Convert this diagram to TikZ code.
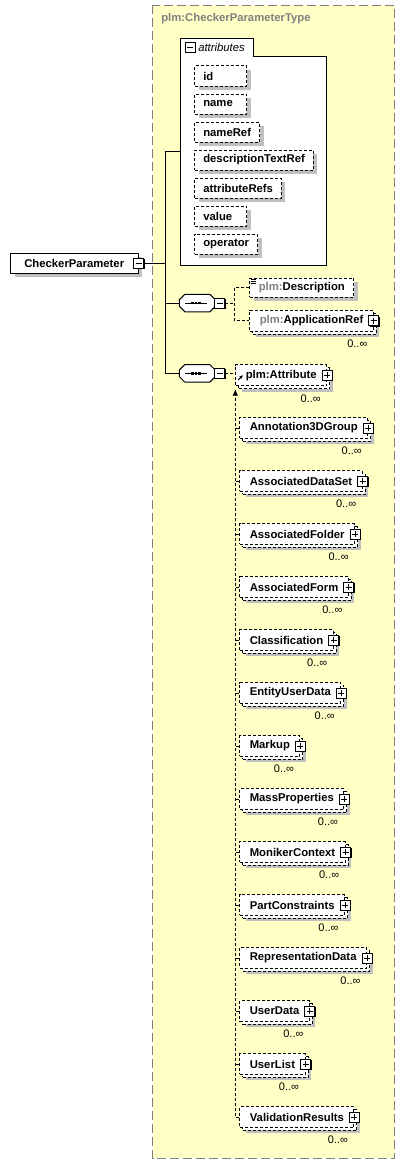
\documentclass[tikz,border=0pt]{standalone}
\usepackage{fontspec}
\setmainfont{Liberation Sans}
\usepackage{tikz}
\usetikzlibrary{arrows.meta, positioning, calc, shadows}
\definecolor{typeyellow}{HTML}{FFFFC6}
\definecolor{nsgray}{HTML}{808080}
\definecolor{shadowgray}{HTML}{C0C0C0}

\begin{document}
\begin{tikzpicture}[x=1pt, y=-1pt, line width=1pt,
    font=\fontsize{11.3pt}{13pt}\selectfont\bfseries,
    dotline/.style={dash pattern=on 3pt off 2pt},
    hardshadow/.style={drop shadow={shadow xshift=4pt, shadow yshift=-4pt, draw=none, fill=shadowgray, opacity=1}},
    attrbox/.style={draw, dotline, fill=white, hardshadow, anchor=west, inner xsep=8.5pt, minimum height=20pt},
    shortattr/.style={attrbox, text width=35pt, align=left},
    elembox/.style={draw, dotline, fill=white, hardshadow, anchor=west, inner xsep=9pt, minimum height=19pt},
    multibox/.style={draw, dotline, fill=white, anchor=west, inner xsep=10pt, minimum height=20.7pt,
      drop shadow={shadow xshift=6pt, shadow yshift=-6pt, draw=none, fill=shadowgray, opacity=1},
      copy shadow={shadow xshift=3pt, shadow yshift=-3pt, draw, dotline, line width=1pt, fill=white}},
    toggle/.style={draw, solid, fill=white, minimum size=10pt, inner sep=0pt,
      drop shadow={shadow xshift=1pt, shadow yshift=-1pt, draw=none, fill=black, opacity=1}},
    collapse/.style={toggle, path picture={
      \draw[line width=0.9pt] ([xshift=2pt]path picture bounding box.west) -- ([xshift=-2pt]path picture bounding box.east);}},
    expand/.style={toggle, path picture={
      \draw[line width=0.9pt] ([xshift=2pt]path picture bounding box.west) -- ([xshift=-2pt]path picture bounding box.east);
      \draw[line width=0.9pt] ([yshift=-2pt]path picture bounding box.north) -- ([yshift=2pt]path picture bounding box.south);}},
    seqbox/.style={minimum width=36pt, minimum height=17.5pt, inner sep=0pt, outer sep=0pt},
    occurs/.style={anchor=east, inner sep=0pt, font=\fontsize{11pt}{13pt}\selectfont}]

    \useasboundingbox (0,0) rectangle (405,1164);

    % complex type
    \draw[nsgray, fill=typeyellow, dash pattern=on 9pt off 4pt] (152.5,5.5) rectangle (394.5,1158);
    \node (typename) [anchor=west, text=nsgray] at (157.5,19) {plm:CheckerParameterType};

    % attributes
    \node (attrs) [anchor=north west, minimum width=146.5pt, minimum height=226.5pt, inner sep=0pt, outer sep=0pt] at (180,38.5) {};
    \draw[fill=white] (attrs.south west) -- (attrs.north west) -- ++(73.5,0) -- ++(0,18.5)
      -| (attrs.south east) -- cycle;
    \node (attspm) [collapse] at (190.3,47.3) {};
    \node (attslabel) [anchor=west, inner xsep=2pt, font=\fontsize{11.3pt}{13pt}\selectfont\itshape] at (attspm.east) {attributes};

    \node (attid) [shortattr] at (194.3,76) {id};
    \node (attname) [shortattr, below=7pt of attid.south west, anchor=north west] {name};
    \node (attnameref) [attrbox, below=7pt of attname.south west, anchor=north west] {nameRef};
    \node (attdescr) [attrbox, below=7pt of attnameref.south west, anchor=north west] {descriptionTextRef};
    \node (attrefs) [attrbox, below=7pt of attdescr.south west, anchor=north west] {attributeRefs};
    \node (attvalue) [shortattr, below=7pt of attrefs.south west, anchor=north west] {value};
    \node (attop) [attrbox, below=7pt of attvalue.south west, anchor=north west] {operator};

    % element
    \node (root) [draw, fill=white, hardshadow, anchor=west, minimum width=127.5pt, minimum height=20pt] at (10,263) {CheckerParameter};
    \node (rootpm) [collapse] at (root.east) {};
    \coordinate (spine) at (165,263);

    % sequences
    \node (seqA) [seqbox] at (197.3,303) {};
    \node (seqB) [seqbox] at (197.3,373.3) {};
    \foreach \s in {seqA, seqB} {
      \foreach \off/\col/\edge in {4/shadowgray/none, 0/white/black}
        \filldraw[fill=\col, draw=\edge, shift={(\off,\off)}]
          ([xshift=5.5pt]\s.north west) -- ([xshift=-5.5pt]\s.north east)
          -- ([yshift=-5.5pt]\s.north east) -- ([yshift=5.5pt]\s.south east)
          -- ([xshift=-5.5pt]\s.south east) -- ([xshift=5.5pt]\s.south west)
          -- ([yshift=5.5pt]\s.south west) -- ([yshift=-5.5pt]\s.north west) -- cycle;
      \draw ([xshift=-12pt]\s.center) -- ([xshift=10pt]\s.center);
      \foreach \dx in {-5, -1.3, 2.4}
        \fill ($(\s.center)+(\dx-1.4,-1.4)$) rectangle +(2.8,2.8);
    }
    \node (seqApm) [collapse] at ([xshift=4.2pt]seqA.east) {};
    \node (seqBpm) [collapse] at ([xshift=4.2pt]seqB.east) {};

    \draw (rootpm) -- (spine);
    \draw (attrs.west -| spine) -- (seqB.west -| spine);
    \draw (attrs.west -| spine) -- (attrs.west);
    \draw (seqA.west -| spine) -- (seqA.west);
    \draw (seqB.west -| spine) -- (seqB.west);

    % first sequence
    \node (descr) [elembox] at (249.3,287.5) {\textcolor{nsgray}{plm:}Description};
    \foreach \dy in {1.6, 3.9, 6.2}
      \draw[line width=0.8pt] ([xshift=1.3pt, yshift=-\dy pt]descr.north west) -- +(5,0);
    \node (appref) [multibox] at (249.3,320.7) {\textcolor{nsgray}{plm:}ApplicationRef};
    \node (apprefpm) [expand] at (appref.east) {};
    \node (apprefocc) [occurs] at ([xshift=-0.5pt, yshift=-23pt]apprefpm.west) {0..∞};
    \draw[dotline] (seqApm.east) -- ++(9.5,0) coordinate (forkA);
    \draw[dotline] (descr.west) -| (forkA) |- (appref.west);

    % second sequence
    \node (attr) [multibox] at (235.3,375.3) {plm:Attribute};
    \node (attrpm) [expand] at (attr.east) {};
    \node (attrocc) [occurs] at ([xshift=-0.5pt, yshift=-23pt]attrpm.west) {0..∞};
    \draw[dotline] (seqBpm.east) -- (seqBpm.east -| attr.west);
    \draw[-{Stealth[length=3.5pt, width=3.5pt]}, line width=1.1pt]
      ([xshift=3pt, yshift=-4.5pt]attr.west) -- ++(4.5,-4.5);

    % substitution group
    \node (annot) [multibox] at (239.3,428) {Annotation3DGroup};
    \node (assocds) [multibox, below=31.3pt of annot.south west, anchor=north west] {AssociatedDataSet};
    \node (assocfolder) [multibox, below=31.3pt of assocds.south west, anchor=north west] {AssociatedFolder};
    \node (assocform) [multibox, below=31.3pt of assocfolder.south west, anchor=north west] {AssociatedForm};
    \node (classif) [multibox, below=31.3pt of assocform.south west, anchor=north west] {Classification};
    \node (entity) [multibox, below=31.3pt of classif.south west, anchor=north west] {EntityUserData};
    \node (markup) [multibox, below=31.3pt of entity.south west, anchor=north west] {Markup};
    \node (massprop) [multibox, below=31.3pt of markup.south west, anchor=north west] {MassProperties};
    \node (moniker) [multibox, below=31.3pt of massprop.south west, anchor=north west] {MonikerContext};
    \node (partcons) [multibox, below=31.3pt of moniker.south west, anchor=north west] {PartConstraints};
    \node (repdata) [multibox, below=31.3pt of partcons.south west, anchor=north west] {RepresentationData};
    \node (userdata) [multibox, below=31.3pt of repdata.south west, anchor=north west] {UserData};
    \node (userlist) [multibox, below=31.3pt of userdata.south west, anchor=north west] {UserList};
    \node (valres) [multibox, below=31.3pt of userlist.south west, anchor=north west] {ValidationResults};

    \foreach \e in {annot, assocds, assocfolder, assocform, classif, entity, markup,
                    massprop, moniker, partcons, repdata, userdata, userlist, valres} {
      \node (\e-pm) [expand] at (\e.east) {};
      \node (\e-occ) [occurs] at ([xshift=-0.5pt, yshift=-23pt]\e-pm.west) {0..∞};
      \draw[dotline] (\e.west) -- (\e.west -| attr.west);
    }
    \draw[dotline, -{Triangle[length=6pt, width=5pt]}] (valres.west) -| ([yshift=-3.5pt]attr.south west);
\end{tikzpicture}
\end{document}
